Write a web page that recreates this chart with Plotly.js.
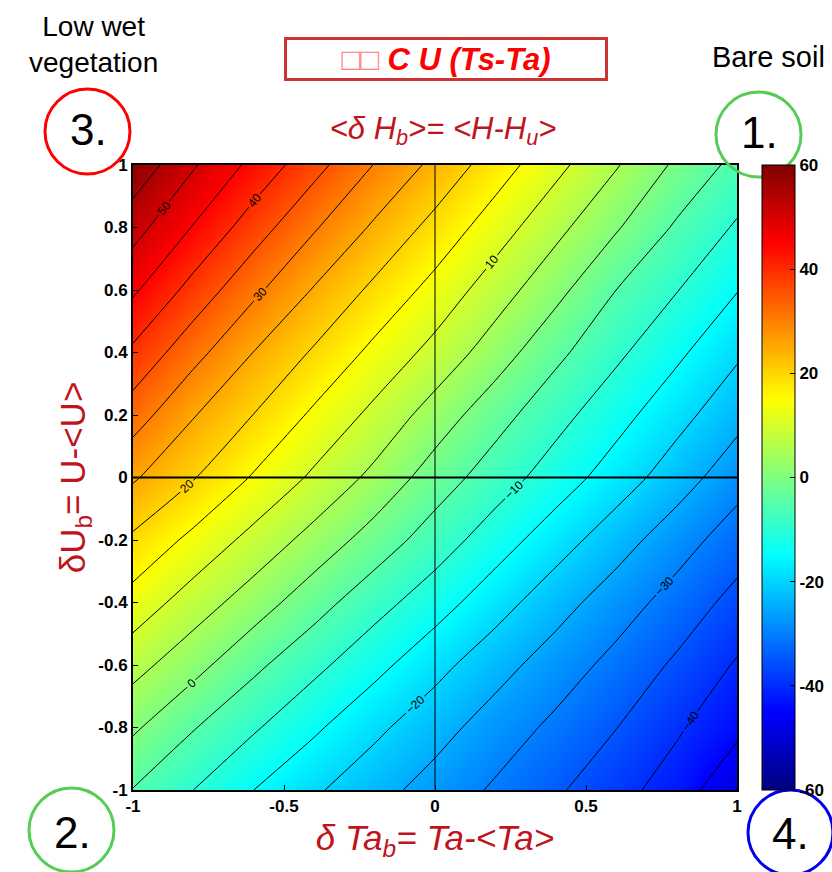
<!DOCTYPE html>
<html><head><meta charset="utf-8">
<script src="https://cdn.plot.ly/plotly-3.0.1.min.js"></script>
<style>html,body{margin:0;padding:0;background:#fff}</style>
</head><body><div id="chart" style="width:832px;height:872px"></div>
<script>
// grid coordinates (deltaTa_b along x, deltaU_b along y)
const xValues = [-1,-0.8,-0.6,-0.4,-0.2,0,0.2,0.4,0.6,0.8,1];
const yValues = [-1,-0.8,-0.6,-0.4,-0.2,0,0.2,0.4,0.6,0.8,1];
// <deltaH_b>, one row per deltaU_b value
const zAtUm10 = [-5.2,-10.0,-15.0,-19.3,-23.2,-27.0,-30.7,-34.3,-38.2,-42.4,-49.0];
const zAtUm08 = [0.8,-4.7,-9.4,-14.2,-18.9,-23.1,-27.3,-31.1,-34.9,-39.3,-43.8];
const zAtUm06 = [6.8,1.7,-3.9,-8.7,-13.5,-18.4,-23.1,-27.4,-31.5,-35.8,-40.5];
const zAtUm04 = [13.0,7.6,2.5,-3.0,-8.1,-12.8,-17.9,-23.0,-27.6,-32.0,-36.6];
const zAtUm02 = [19.1,13.7,8.4,3.2,-2.2,-7.4,-12.6,-17.7,-22.8,-27.8,-32.5];
const zAtU00  = [25.6,20.3,14.5,9.1,3.7,-2.4,-7.5,-12.4,-17.4,-22.6,-28.0];
const zAtU02  = [32.4,25.3,19.9,14.1,8.7,2.8,-3.1,-8.3,-13.2,-18.3,-23.4];
const zAtU04  = [39.0,31.7,24.9,19.4,13.7,8.4,2.5,-3.8,-9.0,-14.0,-19.2];
const zAtU06  = [45.8,38.2,31.1,24.6,18.9,13.3,7.4,1.5,-5.0,-9.8,-14.8];
const zAtU08  = [51.9,44.7,37.4,30.5,24.2,18.4,12.4,6.4,0.5,-5.7,-10.6];
const zAtU10  = [58.6,50.5,43.6,36.7,29.8,23.7,17.5,11.4,5.4,-0.9,-6.5];

const xTickVals = [-1,-0.5,0,0.5,1];
const xTickText = ['-1','-0.5','0','0.5','1'];
const yTickVals = [-1,-0.8,-0.6,-0.4,-0.2,0,0.2,0.4,0.6,0.8,1];
const yTickText = ['-1','-0.8','-0.6','-0.4','-0.2','0','0.2','0.4','0.6','0.8','1'];
const cbTickVals = [-60,-40,-20,0,20,40,60];
const cbTickText = ['-60','-40','-20','0','20','40','60'];

const z = [zAtUm10,zAtUm08,zAtUm06,zAtUm04,zAtUm02,zAtU00,zAtU02,zAtU04,zAtU06,zAtU08,zAtU10];

const jet = [[0,'rgb(0,0,128)'],[0.125,'rgb(0,0,255)'],[0.375,'rgb(0,255,255)'],
             [0.625,'rgb(255,255,0)'],[0.875,'rgb(255,0,0)'],[1,'rgb(128,0,0)']];

const tickFont = {family:'Arial, Liberation Sans', size:17, weight:'bold', color:'black'};
const red = '#c0141c';

const heat = {
  type:'heatmap', x:xValues, y:yValues, z:z, zmin:-60, zmax:60, zsmooth:'best',
  colorscale:jet, hoverinfo:'skip',
  colorbar:{x:1.0414, xanchor:'left', y:0.5, yanchor:'middle', len:1, lenmode:'fraction',
    thickness:33, thicknessmode:'pixels', xpad:0, ypad:0, outlinecolor:'black', outlinewidth:1,
    ticks:'inside', ticklen:5, tickcolor:'black', tickvals:cbTickVals, ticktext:cbTickText,
    tickfont:tickFont}
};
// unlabelled lines at odd multiples of 5
const contOdd = {
  type:'contour', x:xValues, y:yValues, z:z, showscale:false, hoverinfo:'skip',
  contours:{coloring:'none', start:-55, end:55, size:10, showlabels:false},
  line:{color:'black', width:1, smoothing:0.6}
};
// labelled lines at multiples of 10
const contTen = {
  type:'contour', x:xValues, y:yValues, z:z, showscale:false, hoverinfo:'skip',
  contours:{coloring:'none', start:-60, end:60, size:10, showlabels:true,
    labelfont:{family:'Arial', size:12, color:'black'}},
  line:{color:'black', width:1, smoothing:0.6}
};

const layout = {
  width:832, height:872,
  margin:{l:133, r:95, t:165, b:82, pad:0, autoexpand:false},
  paper_bgcolor:'white', plot_bgcolor:'white',
  showlegend:false,
  title:{text:'&lt;δ H<sub>b</sub>&gt;= &lt;H-H<sub>u</sub>&gt;', x:(443)/832, xanchor:'center',
    y:1-128/872, yanchor:'middle', yref:'container',
    font:{family:'Arial, Liberation Sans', size:31, style:'italic', color:red}},
  xaxis:{range:[-1,1], tickvals:xTickVals, ticktext:xTickText, tickfont:tickFont,
    ticks:'inside', ticklen:5, tickcolor:'black', showline:true, mirror:true, linecolor:'black',
    linewidth:2, showgrid:false, zeroline:false, layer:'above traces',
    title:{text:'δ Ta<sub>b</sub>= Ta-&lt;Ta&gt;', standoff:10,
      font:{family:'Arial, Liberation Sans', size:35, style:'italic', color:red}}},
  yaxis:{range:[-1,1], tickvals:yTickVals, ticktext:yTickText, tickfont:tickFont,
    ticks:'inside', ticklen:5, tickcolor:'black', showline:true, mirror:true, linecolor:'black',
    linewidth:2, showgrid:false, zeroline:false, layer:'above traces',
    title:{text:'δU<sub>b</sub>= U-&lt;U&gt;', standoff:2,
      font:{family:'Arial, Liberation Sans', size:35, color:red}}},
  shapes:[
    {type:'line', xref:'x', yref:'paper', x0:0, x1:0, y0:0, y1:1, line:{color:'black', width:1}, layer:'above'},
    {type:'line', xref:'paper', yref:'y', x0:0, x1:1, y0:0, y1:0, line:{color:'black', width:2}, layer:'above'},
    {type:'circle', xref:'paper', yref:'paper', x0:-0.1457, x1:-0.0050, y0:0.9856, y1:1.1216, line:{color:'#ff0000', width:3}},
    {type:'circle', xref:'paper', yref:'paper', x0:0.9652, x1:1.1060, y0:0.9808, y1:1.1168, line:{color:'#55cc55', width:3}},
    {type:'circle', xref:'paper', yref:'paper', x0:-0.1722, x1:-0.0315, y0:-0.1312, y1:0.0032, line:{color:'#55cc55', width:3}},
    {type:'circle', xref:'paper', yref:'paper', x0:1.0182, x1:1.1589, y0:-0.1360, y1:0.0000, line:{color:'#0000ee', width:3}}
  ],
  annotations:[
    {xref:'paper', yref:'paper', x:(446-133)/604, y:(790-59)/625, xanchor:'center', yanchor:'middle',
     text:'<span style="color:#ff8080;font-weight:normal">□□</span> C U (Ts-Ta)', showarrow:false,
     bordercolor:'#cc3333', borderwidth:3, bgcolor:'white', width:316, height:36,
     font:{family:'Arial, Liberation Sans', size:31, weight:'bold', style:'italic', color:'#ff0000'}},
    {xref:'paper', yref:'paper', x:(93-133)/604, y:(790-44)/625, xanchor:'center', yanchor:'middle',
     text:'Low wet<br>vegetation', showarrow:false,
     font:{family:'Arial, Liberation Sans', size:28, color:'black'}},
    {xref:'paper', yref:'paper', x:(768-133)/604, y:(790-57)/625, xanchor:'center', yanchor:'middle',
     text:'Bare soil', showarrow:false,
     font:{family:'Arial, Liberation Sans', size:29, color:'black'}},
    {xref:'paper', yref:'paper', x:(88-133)/604, y:(790-130)/625, xanchor:'center', yanchor:'middle',
     text:'3.', showarrow:false, font:{family:'Arial, Liberation Sans', size:44, color:'black'}},
    {xref:'paper', yref:'paper', x:(759-133)/604, y:(790-132)/625, xanchor:'center', yanchor:'middle',
     text:'1.', showarrow:false, font:{family:'Arial, Liberation Sans', size:44, color:'black'}},
    {xref:'paper', yref:'paper', x:(72-133)/604, y:(790-832)/625, xanchor:'center', yanchor:'middle',
     text:'2.', showarrow:false, font:{family:'Arial, Liberation Sans', size:44, color:'black'}},
    {xref:'paper', yref:'paper', x:(791-133)/604, y:(790-833)/625, xanchor:'center', yanchor:'middle',
     text:'4.', showarrow:false, font:{family:'Arial, Liberation Sans', size:44, color:'black'}}
  ]
};

Plotly.newPlot('chart', [heat, contOdd, contTen], layout, {displayModeBar:false, staticPlot:true});
</script></body></html>
